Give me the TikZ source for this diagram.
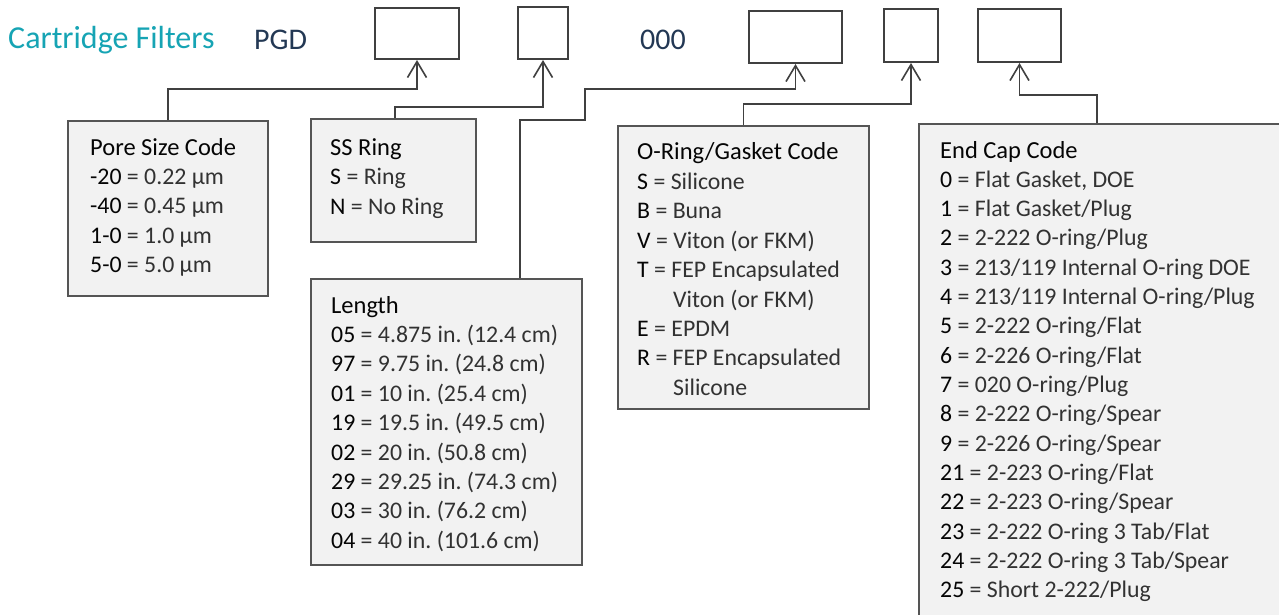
\documentclass[tikz,border=0pt]{standalone}
\usepackage{fontspec}
\setmainfont{Carlito}
\usetikzlibrary{arrows.meta}
\frenchspacing
\definecolor{teal1}{RGB}{22,164,180}
\definecolor{navy1}{RGB}{35,56,84}
\definecolor{boxfill}{RGB}{242,242,242}
\definecolor{boxline}{RGB}{85,85,85}
\definecolor{conline}{RGB}{64,64,64}
\definecolor{codec}{RGB}{5,5,5}
\definecolor{lightc}{RGB}{50,50,50}
\newcommand\ce[2]{{\color{codec}#1} {\color{lightc}= #2}}
\tikzset{
  topbox/.style={draw=conline, line width=2pt, fill=white, anchor=north west, inner sep=0pt},
  infobox/.style={draw=boxline, line width=1.6pt, fill=boxfill, anchor=north west, inner sep=0pt},
  conn/.style={draw=conline, line width=1.6pt, -{Straight Barb[length=16pt,width=19pt,line width=1.6pt]}},
  ln/.style={anchor=base west, inner sep=0pt, font=\fontsize{23.8}{29.4}\selectfont\frenchspacing, text=lightc},
  ttl/.style={anchor=base west, inner sep=0pt, font=\fontsize{24.5}{29.4}\selectfont, text=codec},
}
\begin{document}
\begin{tikzpicture}[x=1pt,y=-1pt]
\useasboundingbox (0,0) rectangle (1279,615);
\clip (0,0) rectangle (1279,615);
\fill[white] (0,0) rectangle (1279,615);

% header
\node[anchor=base west, inner sep=0pt, text=teal1, font=\fontsize{32}{36}\selectfont] (cf) at (8,49) {Cartridge Filters};
\node[anchor=base west, inner sep=0pt, text=navy1, font=\fontsize{30}{36}\selectfont] (pgd) at (254,50) {PGD};
\node[anchor=base west, inner sep=0pt, text=navy1, font=\fontsize{30}{36}\selectfont] (zzz) at (640,50) {000};

% top boxes
\node[topbox, minimum width=84pt, minimum height=51pt] (b1) at (374,7) {};
\node[topbox, minimum width=50pt, minimum height=52pt] (b2) at (517,6) {};
\node[topbox, minimum width=93pt, minimum height=52pt] (b3) at (748,10) {};
\node[topbox, minimum width=54pt, minimum height=53pt] (b4) at (883,8) {};
\node[topbox, minimum width=83pt, minimum height=53pt] (b5) at (977,8) {};

% info boxes
\node[infobox, minimum width=200pt, minimum height=175pt] (pore) at (67,120) {};
\node[infobox, minimum width=165pt, minimum height=123pt] (ss) at (310,118) {};
\node[infobox, minimum width=271pt, minimum height=286pt] (len) at (310,278) {};
\node[infobox, minimum width=251pt, minimum height=283pt] (oring) at (617,125) {};
\node[infobox, minimum width=380pt, minimum height=510pt] (endc) at (918,123) {};

% connectors
\draw[conn] (pore.north) -- ++(0,-31) -| (b1.south);
\draw[conn] ([xshift=1.5pt]ss.north) -- ++(0,-11) -| (b2.south);
\draw[conn] ([xshift=210pt]len.north west) -- ++(0,-158) -- ++(65,0) -- ++(0,-31) -| (b3.south);
\draw[conn] (oring.north) -- ++(0,-21) -| (b4.south);
\draw[conn] ([xshift=179pt]endc.north west) -- ++(0,-28) -| (b5.south);

% Pore size
\node[ttl] (pore-t) at (90,155) {Pore Size Code};
\foreach \c/\t [count=\i] in {{-20}/{0.22 µm},{-40}/{0.45 µm},{1-0}/{1.0 µm},{5-0}/{5.0 µm}}
  \node[ln] (pore-\i) at (90,{155+\i*29.4}) {\ce{\c}{\t}};

% SS ring
\node[ttl] (ss-t) at (330,155) {SS Ring};
\node[ln] (ss-1) at (330,184.5) {\ce{S}{Ring}};
\node[ln] (ss-2) at (330,214) {\ce{N}{No Ring}};

% Length
\node[ttl] (len-t) at (331,313) {Length};
\foreach \c/\t [count=\i] in {{05}/{4.875 in. (12.4 cm)},{97}/{9.75 in. (24.8 cm)},{01}/{10 in. (25.4 cm)},{19}/{19.5 in. (49.5 cm)},{02}/{20 in. (50.8 cm)},{29}/{29.25 in. (74.3 cm)},{03}/{30 in. (76.2 cm)},{04}/{40 in. (101.6 cm)}}
  \node[ln] (len-\i) at (331,{313+\i*29.4}) {\ce{\c}{\t}};

% O-ring
\node[ttl] (or-t) at (637,160) {O-Ring/Gasket Code};
\node[ln] (or-1) at (637,189.4) {\ce{S}{Silicone}};
\node[ln] (or-2) at (637,218.8) {\ce{B}{Buna}};
\node[ln] (or-3) at (637,248.2) {\ce{V}{Viton (or FKM)}};
\node[ln] (or-4) at (637,277.6) {\ce{T}{FEP Encapsulated}};
\node[ln] (or-5) at (673,307.0) {Viton (or FKM)};
\node[ln] (or-6) at (637,336.4) {\ce{E}{EPDM}};
\node[ln] (or-7) at (637,365.8) {\ce{R}{FEP Encapsulated}};
\node[ln] (or-8) at (673,395.2) {Silicone};

% End cap
\node[ttl] (ec-t) at (940,158) {End Cap Code};
\foreach \c/\t [count=\i] in {{0}/{Flat Gasket, DOE},{1}/{Flat Gasket/Plug},{2}/{2-222 O-ring/Plug},{3}/{213/119 Internal O-ring DOE},{4}/{213/119 Internal O-ring/Plug},{5}/{2-222 O-ring/Flat},{6}/{2-226 O-ring/Flat},{7}/{020 O-ring/Plug},{8}/{2-222 O-ring/Spear},{9}/{2-226 O-ring/Spear},{21}/{2-223 O-ring/Flat},{22}/{2-223 O-ring/Spear},{23}/{2-222 O-ring 3 Tab/Flat},{24}/{2-222 O-ring 3 Tab/Spear},{25}/{Short 2-222/Plug}}
  \node[ln] (ec-\i) at (940,{158+\i*29.33}) {\ce{\c}{\t}};
\end{tikzpicture}
\end{document}
